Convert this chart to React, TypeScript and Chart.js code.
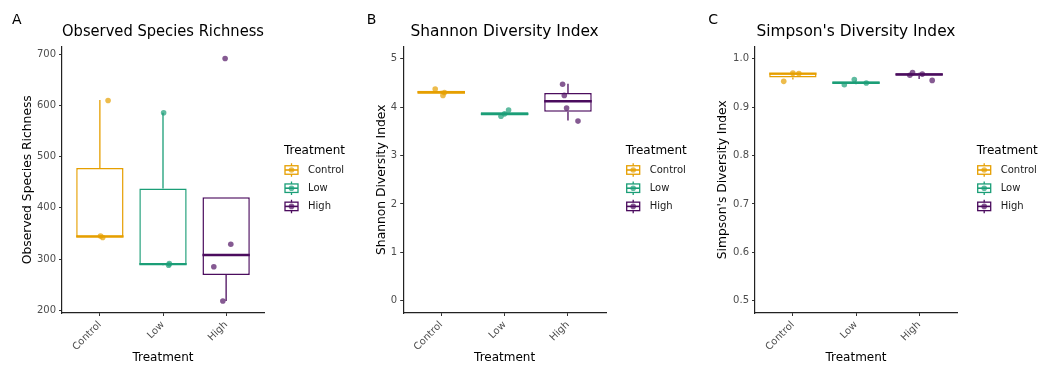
import React, { useEffect, useRef } from "react";
import { Chart, registerables } from "chart.js";

Chart.register(...registerables);

// ---------- shared ----------
const categories = ["Control", "Low", "High"];
const legendTitle = "Treatment";
const xTitle = "Treatment";
const colors = ["#E69F00", "#1B9E77", "#4B0C5E"];
const pointColors = ["rgba(230,159,0,0.7)", "rgba(27,158,119,0.7)", "rgba(75,12,94,0.68)"];

// ---------- Panel A : Observed Species Richness ----------
const richnessTicks = [200, 300, 400, 500, 600, 700];
const richnessQ1 = [343, 289, 269];
const richnessMedian = [344, 290, 308];
const richnessQ3 = [478, 438, 421];
const richnessWhiskerLow = [342, 288, 218];
const richnessWhiskerHigh = [611, 586, 421];
const richnessControl = [610, 345, 342];
const richnessLow = [586, 288, 291];
const richnessHigh = [692, 329, 285, 218];
const richnessJitterControl = [0.13, 0.01, 0.045];
const richnessJitterLow = [0.01, 0.09, 0.1];
const richnessJitterHigh = [-0.016, 0.074, -0.195, -0.052];

// ---------- Panel B : Shannon ----------
const shannonTicks = [0, 1, 2, 3, 4, 5];
const shannonQ1 = [4.275, 3.825, 3.905];
const shannonMedian = [4.305, 3.86, 4.12];
const shannonQ3 = [4.335, 3.895, 4.29];
const shannonWhiskerLow = [4.27, 3.82, 3.72];
const shannonWhiskerHigh = [4.34, 3.9, 4.48];
const shannonControl = [4.37, 4.24, 4.3];
const shannonLow = [3.81, 3.94, 3.86];
const shannonHigh = [4.47, 4.24, 3.98, 3.71];
const shannonJitterControl = [-0.095, 0.027, 0.05];
const shannonJitterLow = [-0.057, 0.063, 0.0];
const shannonJitterHigh = [-0.085, -0.058, -0.022, 0.158];

// ---------- Panel C : Simpson ----------
const simpsonTicks = [0.5, 0.6, 0.7, 0.8, 0.9, 1.0];
const simpsonQ1 = [0.961, 0.948, 0.9648];
const simpsonMedian = [0.969, 0.95, 0.9675];
const simpsonQ3 = [0.97, 0.9525, 0.97];
const simpsonWhiskerLow = [0.957, 0.947, 0.958];
const simpsonWhiskerHigh = [0.971, 0.955, 0.971];
const simpsonControl = [0.969, 0.953, 0.97];
const simpsonLow = [0.946, 0.957, 0.9496];
const simpsonHigh = [0.971, 0.9655, 0.955, 0.968];
const simpsonJitterControl = [0.095, -0.145, 0.0];
const simpsonJitterLow = [-0.185, -0.027, 0.163];
const simpsonJitterHigh = [-0.104, -0.147, 0.207, 0.05];

const FONT = "'DejaVu Sans', sans-serif";

const panels = [
  {
    tag: "A",
    title: "Observed Species Richness",
    yTitle: "Observed Species Richness",
    ticks: richnessTicks,
    yMin: 194.5,
    yMax: 715.5,
    decimals: 0,
    q1: richnessQ1,
    median: richnessMedian,
    q3: richnessQ3,
    lo: richnessWhiskerLow,
    hi: richnessWhiskerHigh,
    points: [richnessControl, richnessLow, richnessHigh],
    jitter: [richnessJitterControl, richnessJitterLow, richnessJitterHigh],
    left: 0,
    padLeft: 20.8,
    yWidth: 41.2,
    padRight: 89,
    tagX: 12,
    legendX: 284,
  },
  {
    tag: "B",
    title: "Shannon Diversity Index",
    yTitle: "Shannon Diversity Index",
    ticks: shannonTicks,
    yMin: -0.25,
    yMax: 5.25,
    decimals: 0,
    q1: shannonQ1,
    median: shannonMedian,
    q3: shannonQ3,
    lo: shannonWhiskerLow,
    hi: shannonWhiskerHigh,
    points: [shannonControl, shannonLow, shannonHigh],
    jitter: [shannonJitterControl, shannonJitterLow, shannonJitterHigh],
    left: 353,
    padLeft: 21.3,
    yWidth: 28.9,
    padRight: 100,
    tagX: 13.7,
    legendX: 272.7,
  },
  {
    tag: "C",
    title: "Simpson's Diversity Index",
    yTitle: "Simpson's Diversity Index",
    ticks: simpsonTicks,
    yMin: 0.475,
    yMax: 1.025,
    decimals: 1,
    q1: simpsonQ1,
    median: simpsonMedian,
    q3: simpsonQ3,
    lo: simpsonWhiskerLow,
    hi: simpsonWhiskerHigh,
    points: [simpsonControl, simpsonLow, simpsonHigh],
    jitter: [simpsonJitterControl, simpsonJitterLow, simpsonJitterHigh],
    left: 706,
    padLeft: 9.8,
    yWidth: 39.2,
    padRight: 102,
    tagX: 2.3,
    legendX: 270.7,
  },
];

const W = 353;
const H = 378;

const boxExtras = {
  id: "boxExtras",
  afterDatasetDraw(chart: any, args: any, opts: any) {
    if (args.meta.type !== "bar") return;
    const ctx = chart.ctx;
    const y = chart.scales.y;
    ctx.save();
    args.meta.data.forEach((bar: any, i: number) => {
      const cx = bar.x;
      const w = bar.width;
      ctx.strokeStyle = colors[i];
      ctx.lineWidth = 1.3;
      ctx.beginPath();
      ctx.moveTo(cx, y.getPixelForValue(opts.q3[i]));
      ctx.lineTo(cx, y.getPixelForValue(opts.hi[i]));
      ctx.moveTo(cx, y.getPixelForValue(opts.q1[i]));
      ctx.lineTo(cx, y.getPixelForValue(opts.lo[i]));
      ctx.stroke();
      ctx.lineWidth = 2.4;
      ctx.beginPath();
      const my = y.getPixelForValue(opts.median[i]);
      ctx.moveTo(cx - w / 2, my);
      ctx.lineTo(cx + w / 2, my);
      ctx.stroke();
    });
    ctx.restore();
  },
};

const boxLegend = {
  id: "boxLegend",
  afterDraw(chart: any, _args: any, opts: any) {
    const ctx = chart.ctx;
    ctx.save();
    // panel tag
    ctx.fillStyle = "#000";
    ctx.font = `14px ${FONT}`;
    ctx.textAlign = "left";
    ctx.textBaseline = "alphabetic";
    ctx.fillText(opts.tag, opts.tagX, 24);
    // legend title
    const lx = opts.legendX;
    ctx.font = `12px ${FONT}`;
    ctx.textBaseline = "middle";
    ctx.fillText(legendTitle, lx, 150.5);
    categories.forEach((c, i) => {
      const cy = 170 + i * 18.2;
      const ix = lx + 1;
      const iw = 13;
      const ih = 8.5;
      ctx.strokeStyle = colors[i];
      ctx.lineWidth = 1.3;
      ctx.fillStyle = "#fff";
      ctx.fillRect(ix, cy - ih / 2, iw, ih);
      ctx.strokeRect(ix, cy - ih / 2, iw, ih);
      ctx.beginPath();
      ctx.moveTo(ix + iw / 2, cy - ih / 2 - 2.5);
      ctx.lineTo(ix + iw / 2, cy - ih / 2);
      ctx.moveTo(ix + iw / 2, cy + ih / 2);
      ctx.lineTo(ix + iw / 2, cy + ih / 2 + 2.5);
      ctx.stroke();
      ctx.lineWidth = 1.6;
      ctx.beginPath();
      ctx.moveTo(ix, cy);
      ctx.lineTo(ix + iw, cy);
      ctx.stroke();
      ctx.fillStyle = pointColors[i];
      ctx.beginPath();
      ctx.arc(ix + iw / 2, cy, 2.8, 0, Math.PI * 2);
      ctx.fill();
      ctx.fillStyle = "#1a1a1a";
      ctx.font = `10px ${FONT}`;
      ctx.fillText(c, lx + 24, cy + 0.5);
    });
    ctx.restore();
  },
};

function buildConfig(p: any): any {
  const datasets: any[] = categories.map((c, i) => ({
    type: "scatter",
    label: c,
    data: p.points[i].map((v: number, j: number) => ({ x: i + 1 + p.jitter[i][j], y: v })),
    backgroundColor: pointColors[i],
    borderWidth: 0,
    pointRadius: 2.8,
    pointHoverRadius: 2.8,
    order: 0,
  }));
  datasets.push({
    type: "bar",
    label: "box",
    data: categories.map((_c, i) => ({ x: i + 1, y: [p.q1[i], p.q3[i]] })),
    backgroundColor: "#ffffff",
    borderColor: colors,
    borderWidth: 1.5,
    borderSkipped: false,
    barPercentage: 0.75,
    categoryPercentage: 1,
    grouped: false,
    order: 5,
  });
  const xBottom = 313;
  const padBottom = 12.8;
  return {
    type: "scatter",
    data: { datasets },
    options: {
      responsive: false,
      animation: false,
      events: [],
      layout: { padding: { left: p.padLeft, right: p.padRight, top: 0, bottom: padBottom } },
      plugins: {
        legend: { display: false },
        tooltip: { enabled: false },
        title: {
          display: true,
          text: p.title,
          color: "#000",
          font: { family: FONT, size: 15.4, weight: "normal", lineHeight: 1.2 },
          padding: { top: 22.5, bottom: 5.5 },
          fullSize: false,
        },
        boxExtras: { q1: p.q1, q3: p.q3, median: p.median, lo: p.lo, hi: p.hi },
        boxLegend: { tag: p.tag, tagX: p.tagX, legendX: p.legendX },
      },
      scales: {
        x: {
          type: "linear",
          min: 0.4,
          max: 3.6,
          offset: false,
          afterBuildTicks: (s: any) => {
            s.ticks = categories.map((_c, i) => ({ value: i + 1 }));
          },
          afterFit: (s: any) => {
            s.height = H - padBottom - xBottom;
          },
          ticks: {
            autoSkip: false,
            minRotation: 45,
            maxRotation: 45,
            padding: 3,
            color: "#4D4D4D",
            font: { family: FONT, size: 10 },
            callback: (v: number) => categories[Math.round(v) - 1],
          },
          grid: {
            display: true,
            drawOnChartArea: false,
            drawTicks: true,
            tickLength: 3,
            tickColor: "#333",
            tickWidth: 1,
            offset: false,
          },
          border: { display: true, color: "#222", width: 1.2 },
          title: {
            display: true,
            text: xTitle,
            color: "#000",
            font: { family: FONT, size: 12, lineHeight: 1.2 },
            padding: 0,
          },
        },
        y: {
          type: "linear",
          min: p.yMin,
          max: p.yMax,
          afterBuildTicks: (s: any) => {
            s.ticks = p.ticks.map((v: number) => ({ value: v }));
          },
          afterFit: (s: any) => {
            s.width = p.yWidth;
          },
          ticks: {
            padding: 3,
            color: "#4D4D4D",
            font: { family: FONT, size: 10 },
            callback: (v: number) => v.toFixed(p.decimals),
          },
          grid: {
            display: true,
            drawOnChartArea: false,
            drawTicks: true,
            tickLength: 3,
            tickColor: "#333",
            tickWidth: 1,
          },
          border: { display: true, color: "#222", width: 1.2 },
          title: {
            display: true,
            text: p.yTitle,
            color: "#000",
            font: { family: FONT, size: 12.3, lineHeight: 1.2 },
            padding: 0,
          },
        },
      },
    },
    plugins: [boxExtras, boxLegend],
  };
}

function Panel({ p }: { p: any }) {
  const ref = useRef<HTMLCanvasElement | null>(null);
  useEffect(() => {
    if (!ref.current) return;
    const chart = new Chart(ref.current, buildConfig(p));
    return () => chart.destroy();
  }, [p]);
  return (
    <canvas
      ref={ref}
      width={W}
      height={H}
      style={{ position: "absolute", left: p.left, top: 0, width: W, height: H }}
    />
  );
}

export default function App() {
  return (
    <div
      style={{
        position: "fixed",
        left: 0,
        top: 0,
        width: 1059,
        height: 378,
        background: "#ffffff",
        overflow: "hidden",
      }}
    >
      {panels.map((p) => (
        <Panel key={p.tag} p={p} />
      ))}
    </div>
  );
}
